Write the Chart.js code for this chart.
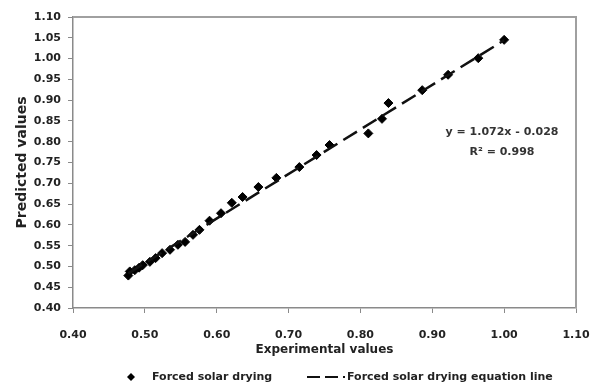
<!DOCTYPE html>
<html>
<head>
<meta charset="utf-8">
<script src="https://cdn.jsdelivr.net/npm/chart.js@4/dist/chart.umd.min.js"></script>
<style>
  html, body { margin: 0; padding: 0; background: #fff; }
  #wrap { width: 598px; height: 385px; }
</style>
</head>
<body>
<div id="wrap"><canvas id="c" width="598" height="385"></canvas></div>
<script>
// Experimental vs. predicted moisture ratio, forced solar drying
const experimental = [0.477, 0.479, 0.486, 0.492, 0.497, 0.507, 0.515, 0.524, 0.535, 0.546,
                      0.556, 0.567, 0.576, 0.590, 0.606, 0.621, 0.636, 0.658, 0.683, 0.715,
                      0.739, 0.757, 0.811, 0.830, 0.839, 0.886, 0.922, 0.964, 1.000];
const predicted    = [0.478, 0.488, 0.491, 0.497, 0.503, 0.511, 0.520, 0.532, 0.540, 0.552,
                      0.559, 0.576, 0.588, 0.610, 0.628, 0.653, 0.667, 0.691, 0.713, 0.739,
                      0.768, 0.792, 0.820, 0.855, 0.893, 0.924, 0.961, 1.001, 1.045];

// Fitted regression line
const slope = 1.072;
const intercept = -0.028;
const rSquared = 0.998;

const seriesNames = ['Forced solar drying', 'Forced solar drying equation line'];
const xTitle = 'Experimental values';
const yTitle = 'Predicted values';

const points = experimental.map((x, i) => ({ x: x, y: predicted[i] }));
const xMin = Math.min(...experimental);
const xMax = Math.max(...experimental);
const fitLine = [xMin, xMax].map(x => ({ x: x, y: slope * x + intercept }));

const FONT = 'DejaVu Sans';
const TEXT = '#222';
const AXIS = '#8a8a8a';

// Light frame on the top and right of the plot area
const framePlugin = {
  id: 'frame',
  beforeDatasetsDraw(chart) {
    const { ctx, chartArea: a } = chart;
    ctx.save();
    ctx.strokeStyle = '#a0a0a0';
    ctx.lineWidth = 2;
    ctx.beginPath();
    ctx.moveTo(a.left, a.top);
    ctx.lineTo(a.right, a.top);
    ctx.lineTo(a.right, a.bottom);
    ctx.stroke();
    ctx.restore();
  }
};

// Regression equation text
const equationPlugin = {
  id: 'equation',
  afterDatasetsDraw(chart) {
    const { ctx, scales } = chart;
    const x = scales.x.getPixelForValue(0.997);
    const y = scales.y.getPixelForValue(0.823);
    const sign = intercept < 0 ? '-' : '+';
    ctx.save();
    ctx.fillStyle = '#333';
    ctx.font = 'bold 11px "' + FONT + '"';
    ctx.textAlign = 'center';
    ctx.textBaseline = 'middle';
    ctx.fillText('y = ' + slope.toFixed(3) + 'x ' + sign + ' ' + Math.abs(intercept).toFixed(3), x, y);
    ctx.fillText('R\u00B2 = ' + rSquared.toFixed(3), x, y + 20);
    ctx.restore();
  }
};

// Legend row under the axis title, styled from the datasets
const legendPlugin = {
  id: 'bottomLegend',
  afterDraw(chart) {
    const { ctx } = chart;
    const ds = chart.data.datasets;
    const y = 377;
    ctx.save();
    ctx.font = 'bold 11px "' + FONT + '"';
    ctx.fillStyle = TEXT;
    ctx.textAlign = 'left';
    ctx.textBaseline = 'middle';

    // marker item
    const mx = 131, r = 4;
    ctx.fillStyle = ds[0].backgroundColor;
    ctx.beginPath();
    ctx.moveTo(mx, y - r);
    ctx.lineTo(mx + r, y);
    ctx.lineTo(mx, y + r);
    ctx.lineTo(mx - r, y);
    ctx.closePath();
    ctx.fill();
    ctx.fillStyle = TEXT;
    ctx.fillText(ds[0].label, 152, y);

    // line item
    ctx.strokeStyle = ds[1].borderColor;
    ctx.lineWidth = 2;
    ctx.setLineDash([13, 5]);
    ctx.beginPath();
    ctx.moveTo(307, y);
    ctx.lineTo(345, y);
    ctx.stroke();
    ctx.setLineDash([]);
    ctx.fillText(ds[1].label, 347, y);
    ctx.restore();
  }
};

new Chart(document.getElementById('c'), {
  type: 'scatter',
  data: {
    datasets: [
      {
        label: seriesNames[0],
        data: points,
        pointStyle: 'rectRot',
        pointRadius: 4.5,
        pointHoverRadius: 4.5,
        backgroundColor: '#000',
        borderColor: '#000',
        borderWidth: 1,
        order: 1
      },
      {
        type: 'line',
        label: seriesNames[1],
        data: fitLine,
        showLine: true,
        fill: false,
        borderColor: '#111',
        borderWidth: 2.5,
        borderDash: [16, 7],
        pointRadius: 0,
        pointHoverRadius: 0,
        order: 0
      }
    ]
  },
  options: {
    responsive: false,
    animation: false,
    layout: { padding: { top: 17, right: 22, bottom: 28, left: 0 } },
    plugins: {
      legend: { display: false },
      tooltip: { enabled: false }
    },
    scales: {
      x: {
        type: 'linear',
        min: 0.40,
        max: 1.10,
        afterFit(scale) {
          scale.height = 49;
          scale.paddingLeft = 14;
          scale.paddingRight = 14;
        },
        border: { display: true, color: AXIS, width: 1.5 },
        grid: { drawOnChartArea: false, drawTicks: true, tickLength: 5, color: AXIS },
        ticks: {
          stepSize: 0.10,
          padding: 16,
          color: TEXT,
          font: { family: FONT, size: 11, weight: 'bold' },
          callback: v => v.toFixed(2)
        },
        title: {
          display: true,
          text: xTitle,
          color: TEXT,
          padding: { top: 0, bottom: 0 },
          font: { family: FONT, size: 12, weight: 'bold' }
        }
      },
      y: {
        type: 'linear',
        min: 0.40,
        max: 1.10,
        afterFit(scale) { scale.width = 73; },
        border: { display: true, color: AXIS, width: 1.5 },
        grid: { drawOnChartArea: false, drawTicks: true, tickLength: 5, color: AXIS },
        ticks: {
          stepSize: 0.05,
          padding: 7,
          color: TEXT,
          font: { family: FONT, size: 11, weight: 'bold' },
          callback: v => v.toFixed(2)
        },
        title: {
          display: true,
          text: yTitle,
          color: TEXT,
          padding: { top: 14, bottom: 0 },
          font: { family: FONT, size: 14, weight: 'bold' }
        }
      }
    }
  },
  plugins: [framePlugin, equationPlugin, legendPlugin]
});
</script>
</body>
</html>
